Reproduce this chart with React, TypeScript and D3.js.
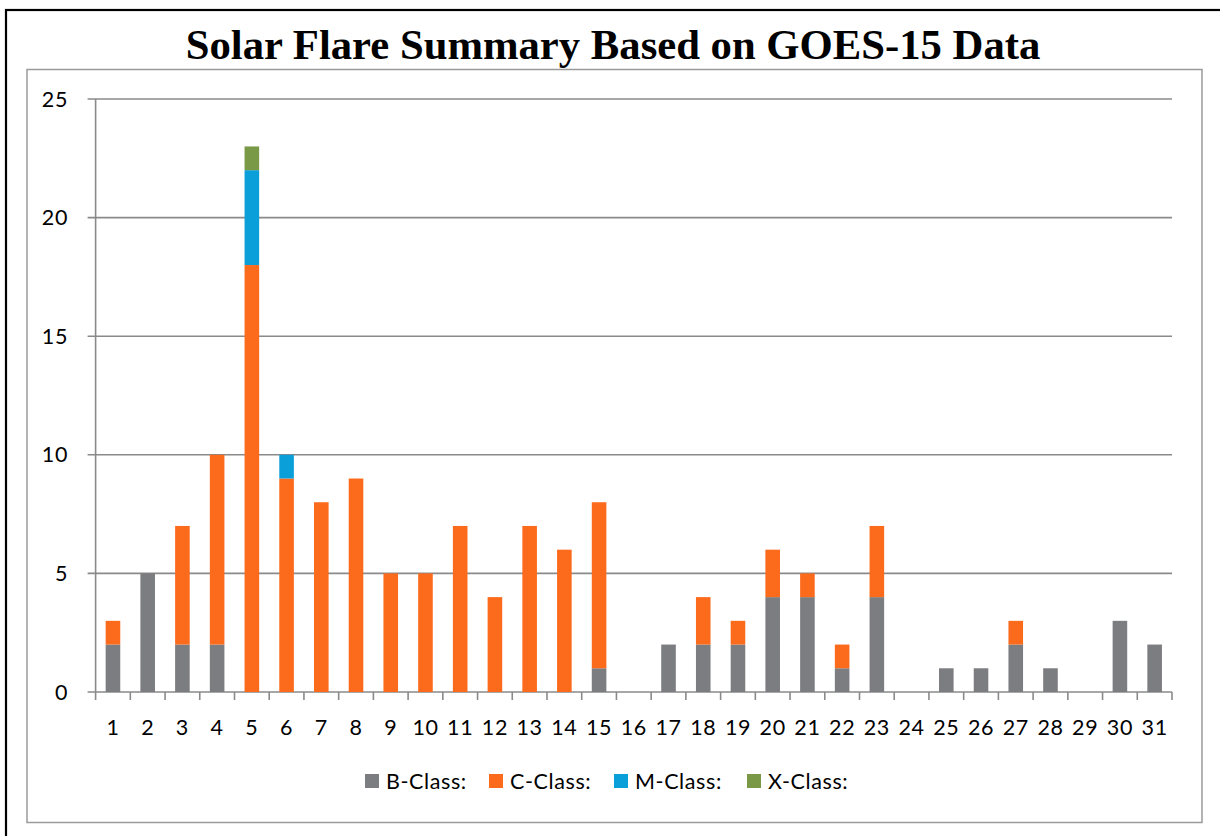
import React, { useEffect, useRef } from 'react';
import * as d3 from 'd3';

// days of the month
const days: string[] = d3.range(1, 32).map(String);

// flare counts per class, one value per day
const bClass: number[] = [2, 5, 2, 2, 0, 0, 0, 0, 0, 0, 0, 0, 0, 0, 1, 0, 2, 2, 2, 4, 4, 1, 4, 0, 1, 1, 2, 1, 0, 3, 2];
const cClass: number[] = [1, 0, 5, 8, 18, 9, 8, 9, 5, 5, 7, 4, 7, 6, 7, 0, 0, 2, 1, 2, 1, 1, 3, 0, 0, 0, 1, 0, 0, 0, 0];
const mClass: number[] = [0, 0, 0, 0, 4, 1, 0, 0, 0, 0, 0, 0, 0, 0, 0, 0, 0, 0, 0, 0, 0, 0, 0, 0, 0, 0, 0, 0, 0, 0, 0];
const xClass: number[] = [0, 0, 0, 0, 1, 0, 0, 0, 0, 0, 0, 0, 0, 0, 0, 0, 0, 0, 0, 0, 0, 0, 0, 0, 0, 0, 0, 0, 0, 0, 0];

const seriesNames = ['B-Class:', 'C-Class:', 'M-Class:', 'X-Class:'];
const seriesColors = ['#7c7d81', '#fc6a1c', '#0a9fd9', '#799947'];
const yTicks = [0, 5, 10, 15, 20, 25];

const W = 1220;
const H = 836;
const tickFont = 'Lato, "Open Sans", sans-serif';

function App() {
  const svgRef = useRef<SVGSVGElement>(null);

  useEffect(() => {
    const svg = d3.select(svgRef.current);
    svg.selectAll('*').remove();

    // 外框
    svg.append('rect')
      .attr('x', 6).attr('y', 10)
      .attr('width', W + 20).attr('height', H + 20)
      .attr('fill', 'white')
      .attr('stroke', '#000').attr('stroke-width', 2.2);

    // chart area border
    svg.append('rect')
      .attr('x', 27).attr('y', 69.5)
      .attr('width', 1175).attr('height', 753)
      .attr('fill', 'white')
      .attr('stroke', '#9a9a9a').attr('stroke-width', 1.5);

    svg.append('text')
      .attr('x', 613).attr('y', 59)
      .attr('text-anchor', 'middle')
      .attr('font-family', '"Liberation Serif", "Times New Roman", serif')
      .attr('font-weight', 'bold')
      .attr('font-size', 42.7)
      .attr('fill', '#000')
      .text('Solar Flare Summary Based on GOES-15 Data');

    const left = 95.6, right = 1172, top = 99, bottom = 692;

    const x = d3.scaleBand().domain(days).range([left, right]).paddingInner(0).paddingOuter(0);
    const y = d3.scaleLinear().domain([0, 25]).range([bottom, top]);

    // grid lines
    svg.append('g')
      .selectAll('line')
      .data(yTicks)
      .enter()
      .append('line')
      .attr('x1', left - 8).attr('x2', right)
      .attr('y1', d => y(d)).attr('y2', d => y(d))
      .attr('stroke', '#8a8a8a').attr('stroke-width', 1.6);

    // y axis line
    svg.append('line')
      .attr('x1', left).attr('x2', left)
      .attr('y1', top).attr('y2', bottom)
      .attr('stroke', '#8a8a8a').attr('stroke-width', 1.6);

    // y labels
    svg.append('g')
      .selectAll('text')
      .data(yTicks)
      .enter()
      .append('text')
      .attr('x', 68)
      .attr('y', d => y(d) + 7.5)
      .attr('text-anchor', 'end')
      .attr('font-family', tickFont)
      .attr('font-size', 21.5)
      .attr('letter-spacing', 0.6)
      .attr('fill', '#000')
      .text(d => d);

    // stacked bars
    const rows = days.map((d, i) => ({ day: d, b: bClass[i], c: cClass[i], m: mClass[i], x: xClass[i] }));
    const stack = d3.stack<any>().keys(['b', 'c', 'm', 'x'])(rows);
    const barW = x.bandwidth() * 0.42;

    svg.append('g')
      .selectAll('g')
      .data(stack)
      .enter()
      .append('g')
      .attr('fill', (_, i) => seriesColors[i])
      .selectAll('rect')
      .data(s => s.filter(p => p[1] > p[0]))
      .enter()
      .append('rect')
      .attr('x', p => (x(p.data.day) as number) + (x.bandwidth() - barW) / 2)
      .attr('y', p => y(p[1]))
      .attr('width', barW)
      .attr('height', p => y(p[0]) - y(p[1]));

    // x axis ticks at band edges
    const edges = days.map(d => x(d) as number).concat([right]);
    svg.append('g')
      .selectAll('line')
      .data(edges)
      .enter()
      .append('line')
      .attr('x1', d => d).attr('x2', d => d)
      .attr('y1', bottom).attr('y2', bottom + 8)
      .attr('stroke', '#8a8a8a').attr('stroke-width', 1.6);

    svg.append('g')
      .selectAll('text')
      .data(days)
      .enter()
      .append('text')
      .attr('x', d => (x(d) as number) + x.bandwidth() / 2)
      .attr('y', 735)
      .attr('text-anchor', 'middle')
      .attr('font-family', tickFont)
      .attr('font-size', 21.5)
      .attr('letter-spacing', 0.6)
      .attr('fill', '#000')
      .text(d => d);

    // legend
    const legendX = [365, 489, 614, 747];
    const lg = svg.append('g')
      .selectAll('g')
      .data(seriesNames)
      .enter()
      .append('g')
      .attr('transform', (_, i) => `translate(${legendX[i]},774)`);
    lg.append('rect')
      .attr('width', 14).attr('height', 14)
      .attr('fill', (_, i) => seriesColors[i]);
    lg.append('text')
      .attr('x', 21).attr('y', 15)
      .attr('font-family', tickFont)
      .attr('font-size', 21.5)
      .attr('letter-spacing', 0.6)
      .attr('fill', '#000')
      .text(d => d);
  }, []);

  return (
    <div style={{ position: 'absolute', left: 0, top: 0 }}>
      <svg ref={svgRef} width={W} height={H} style={{ display: 'block' }}></svg>
    </div>
  );
}

export default App;
